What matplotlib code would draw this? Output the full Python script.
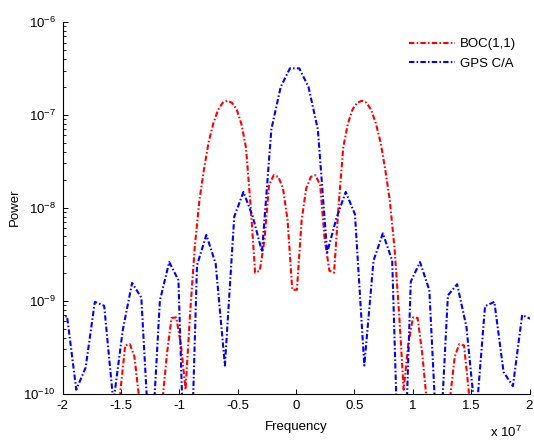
import matplotlib
matplotlib.use("Agg")
import matplotlib.pyplot as plt
from matplotlib.ticker import LogLocator, FixedLocator, NullFormatter

plt.rcParams['font.family'] = ['Liberation Sans', 'DejaVu Sans']
plt.rcParams['axes.unicode_minus'] = False
plt.rcParams['mathtext.fontset'] = 'custom'
plt.rcParams['mathtext.rm'] = 'Liberation Sans'
plt.rcParams['mathtext.it'] = 'Liberation Sans'
plt.rcParams['lines.scale_dashes'] = False

# ---- data (frequency in units of 1e7 Hz) ----
boc_freq = [-1.582, -1.543, -1.503, -1.463, -1.423, -1.384, -1.344, -1.304, -1.264, -1.225,
            -1.185, -1.145, -1.105, -1.066, -1.026, -0.986, -0.946, -0.907, -0.867, -0.827,
            -0.787, -0.748, -0.708, -0.668, -0.628, -0.588, -0.549, -0.509, -0.469, -0.429,
            -0.390, -0.350, -0.310, -0.270, -0.231, -0.191, -0.151, -0.111, -0.072, -0.032,
            0.008, 0.048, 0.087, 0.127, 0.167, 0.207, 0.246, 0.286, 0.326, 0.366,
            0.405, 0.445, 0.485, 0.525, 0.564, 0.604, 0.644, 0.684, 0.724, 0.763,
            0.803, 0.843, 0.883, 0.922, 0.962, 1.002, 1.042, 1.081, 1.121, 1.161,
            1.201, 1.240, 1.280, 1.320, 1.360, 1.399, 1.439, 1.479, 1.519, 1.558]
boc_power = [3e-12, 1e-11, 1.1e-10, 3.3e-10, 3.4e-10, 2.5e-10, 9e-11, 1e-11, 2e-12, 3e-12,
             1e-11, 8e-11, 2.7e-10, 6.5e-10, 6.6e-10, 3.4e-10, 1.1e-10, 7.3e-10, 3.8e-9, 1.21e-8,
             2.65e-8, 5.1e-8, 8.1e-8, 1.13e-7, 1.35e-7, 1.42e-7, 1.35e-7, 1.15e-7, 8.1e-8, 4.5e-8,
             1.1e-8, 2.0e-9, 2.1e-9, 4.5e-9, 1.75e-8, 2.24e-8, 2.15e-8, 1.61e-8, 7.3e-9, 1.31e-9,
             1.31e-9, 7.3e-9, 1.61e-8, 2.15e-8, 2.24e-8, 1.75e-8, 4.5e-9, 2.1e-9, 2.0e-9, 1.1e-8,
             4.5e-8, 8.1e-8, 1.15e-7, 1.35e-7, 1.42e-7, 1.35e-7, 1.13e-7, 8.1e-8, 5.1e-8, 2.65e-8,
             1.21e-8, 3.8e-9, 7.3e-10, 1.1e-10, 3.4e-10, 6.6e-10, 6.5e-10, 2.7e-10, 8e-11, 1e-11,
             3e-12, 2e-12, 1e-11, 9e-11, 2.5e-10, 3.4e-10, 3.3e-10, 1.1e-10, 1e-11, 3e-12]

gps_freq = [-2.041, -1.961, -1.882, -1.802, -1.723, -1.643, -1.564, -1.484, -1.404, -1.325,
            -1.245, -1.166, -1.086, -1.007, -0.927, -0.848, -0.768, -0.688, -0.609, -0.529,
            -0.450, -0.370, -0.291, -0.211, -0.131, -0.052,
            0.028, 0.107, 0.187, 0.267, 0.346, 0.426, 0.505, 0.585, 0.664, 0.744,
            0.824, 0.903, 0.983, 1.062, 1.142, 1.221, 1.301, 1.380, 1.460, 1.540,
            1.619, 1.699, 1.778, 1.858, 1.937, 2.017]
gps_power = [6.5e-10, 6.8e-10, 1.1e-10, 1.9e-10, 9.7e-10, 8.8e-10, 8e-11, 4.8e-10, 1.55e-9, 1.08e-9,
             1.6e-11, 1.0e-9, 2.6e-9, 1.66e-9, 1e-12, 2.4e-9, 5.1e-9, 2.5e-9, 2.0e-10, 8e-9,
             1.48e-8, 8.0e-9, 3.35e-9, 7e-8, 2.0e-7, 3.17e-7,
             3.17e-7, 2.0e-7, 7e-8, 3.3e-9, 7.7e-9, 1.48e-8, 8.5e-9, 2.0e-10, 2.7e-9, 5.3e-9,
             2.7e-9, 1.3e-12, 1.6e-9, 2.6e-9, 1.3e-9, 1.3e-11, 1.14e-9, 1.5e-9, 5.2e-10, 5e-11,
             8.7e-10, 9.7e-10, 1.7e-10, 1.2e-10, 7.0e-10, 6.3e-10]

series_labels = ["BOC(1,1)", "GPS C/A"]
x_ticks = [-2, -1.5, -1, -0.5, 0, 0.5, 1, 1.5, 2]
x_tick_labels = ["-2", "-1.5", "-1", "-0.5", "0", "0.5", "1", "1.5", "2"]

# ---- figure ----
W, H = 534, 442
fig = plt.figure(figsize=(W / 100, H / 100), dpi=100)
ax = fig.add_axes([62.5 / W, 1 - 393.5 / H, (529.5 - 62.5) / W, (393.5 - 22) / H])

dash = (3.9, 1.6, 1.1, 1.6)
l1, = ax.plot(boc_freq, boc_power, color='#ff0000', lw=1.5, label=series_labels[0])
l2, = ax.plot(gps_freq, gps_power, color='#0000ff', lw=1.5, label=series_labels[1])
for ln in (l1, l2):
    ln.set_dashes(dash)

ax.set_yscale('log')
ax.set_xlim(-2, 2)
ax.set_ylim(1e-10, 1e-6)
ax.xaxis.set_major_locator(FixedLocator(x_ticks))
ax.set_xticklabels(x_tick_labels)
ax.yaxis.set_major_locator(LogLocator(base=10, numticks=10))
ax.yaxis.set_minor_locator(LogLocator(base=10, subs=range(2, 10), numticks=20))
ax.yaxis.set_minor_formatter(NullFormatter())

for s in ('top', 'right'):
    ax.spines[s].set_visible(False)
for s in ('left', 'bottom'):
    ax.spines[s].set_linewidth(0.8)
ax.tick_params(which='major', direction='in', length=3.5, width=0.7, labelsize=9.5, pad=5)
ax.tick_params(which='minor', direction='in', length=2, width=0.6)
ax.tick_params(axis='x', which='both', top=False)
ax.tick_params(axis='y', which='both', right=False)

ax.set_xlabel('Frequency', fontsize=9.5, labelpad=6)
ax.set_ylabel('Power', fontsize=9.5, labelpad=2)
fig.text(522 / W, 1 - 437 / H, r'x 10$^{7}$', fontsize=9.5, ha='right', va='baseline')

leg = ax.legend(loc='upper left', bbox_to_anchor=((409 - 62.5) / 467, (393.5 - 38) / 371.5),
                frameon=False, fontsize=9.5, handlelength=3.5, handletextpad=0.35,
                borderpad=0, borderaxespad=0, labelspacing=0.55)

fig.savefig('out.png', dpi=100)
